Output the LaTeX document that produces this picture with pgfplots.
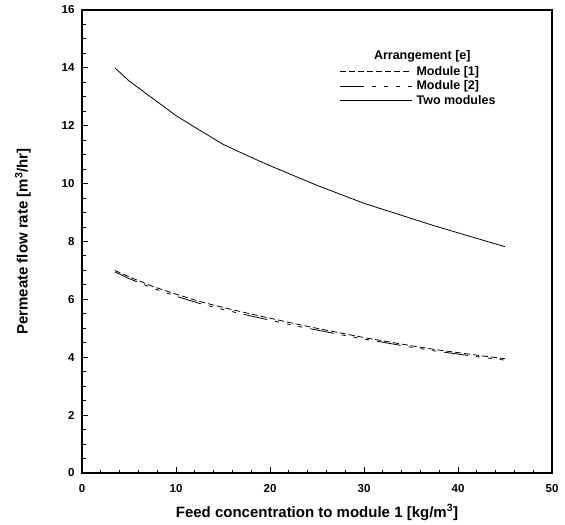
\documentclass[border=0pt]{standalone}
\usepackage{fontspec}
\setmainfont{Liberation Sans}
\usepackage{pgfplots}
\pgfplotsset{compat=1.18}
\begin{document}
\begin{tikzpicture}
\begin{axis}[
  name=ax,
  scale only axis,
  width=470pt, height=463pt,
  xmin=0, xmax=50, ymin=0, ymax=16,
  xtick={0,10,...,50}, ytick={0,2,...,16},
  minor x tick num=4, minor y tick num=3,
  tick pos=left, tick align=inside,
  major tick length=6pt, minor tick length=3.5pt,
  every tick/.style={black, line width=1pt},
  axis line style={line width=1.3pt},
  /pgf/number format/assume math mode=true,
  tick label style={font=\fontsize{11.5}{12}\selectfont\bfseries},
  xticklabel style={yshift=-8pt},
  yticklabel style={xshift=-4pt},
  label style={font=\fontsize{15}{17}\selectfont\bfseries},
  xlabel={Feed concentration to module 1 [kg/m\textsuperscript{3}]},
  ylabel={Permeate flow rate [m\textsuperscript{3}/hr]},
  xlabel style={yshift=-5pt},
  ylabel style={yshift=24pt},
  legend style={draw=none, fill=none, at={(axis cs:27.4,14.2)}, anchor=north west,
    font=\fontsize{12.5}{13}\selectfont\bfseries, row sep=-4pt, inner sep=0pt,
    nodes={inner sep=4pt}},
  legend cell align=left,
  legend image code/.code={\draw[#1] (0pt,0pt) -- (72pt,0pt);},
]
\addplot[black, line width=0.8pt, dash pattern=on 6pt off 3pt] coordinates {
(3.5,7.00)(5,6.78)(7.5,6.45)(10,6.18)(12.5,5.93)(15,5.72)(17.5,5.53)(20,5.35)
(22.5,5.17)(25,5.00)(27.5,4.84)(30,4.68)(32.5,4.54)(35,4.40)(37.5,4.27)
(40,4.16)(42.5,4.05)(45,3.95)};
\addlegendentry{Module [1]}
\addplot[black, line width=0.8pt, dash pattern=on 24pt off 8pt on 4pt off 8pt on 4pt off 8pt on 4pt off 8pt] coordinates {
(3.5,6.95)(5,6.72)(7.5,6.39)(10,6.11)(12.5,5.86)(15,5.65)(17.5,5.46)(20,5.28)
(22.5,5.10)(25,4.94)(27.5,4.78)(30,4.63)(32.5,4.49)(35,4.35)(37.5,4.22)
(40,4.11)(42.5,4.00)(45,3.90)};
\addlegendentry{Module [2]}
\addplot[black, line width=0.8pt] coordinates {
(3.5,14.00)(5,13.55)(7.5,12.95)(10,12.35)(12.5,11.85)(15,11.36)(17.5,10.98)
(20,10.62)(22.5,10.28)(25,9.94)(27.5,9.63)(30,9.32)(32.5,9.06)(35,8.80)
(37.5,8.54)(40,8.30)(42.5,8.06)(45,7.82)};
\addlegendentry{Two modules}
\node[font=\fontsize{12.5}{13}\selectfont\bfseries] at (axis cs:36.2,14.4) {Arrangement [e]};
\end{axis}
\pgfresetboundingbox
\path[use as bounding box] ([shift={(-82pt,-51pt)}]ax.south west) rectangle ([shift={(13pt,10pt)}]ax.north east);
\end{tikzpicture}
\end{document}
